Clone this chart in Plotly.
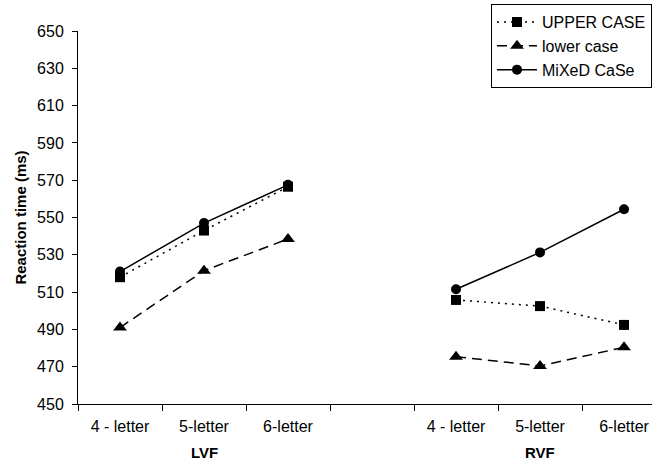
import plotly.graph_objects as go

categories = ["4 - letter", "5-letter", "6-letter", "", "4 - letter", "5-letter", "6-letter"]
groups = ["LVF", "RVF"]
upper_case = [518, 543, 566.5, None, 505.8, 502.5, 492.4]
lower_case = [491, 521.5, 538.5, None, 475.4, 470.4, 480.4]
mixed_case = [521, 547, 567.5, None, 511.5, 531.3, 554.4]
y_ticks = list(range(450, 651, 20))

xpos = list(range(len(categories)))
font = "Arial, Liberation Sans, sans-serif"

fig = go.Figure()
series = [
    ("UPPER CASE", upper_case, "2px,5px", "square", 10),
    ("lower case", lower_case, "10px,6px", "triangle-up", 12),
    ("MiXeD CaSe", mixed_case, "solid", "circle", 10),
]
for name, vals, dash, sym, size in series:
    fig.add_trace(go.Scatter(
        x=xpos, y=vals, name=name, mode="lines+markers",
        connectgaps=False,
        line=dict(color="black", width=1.5, dash=dash),
        marker=dict(symbol=sym, size=size, color="black"),
    ))

label_idx = [i for i, c in enumerate(categories) if c]
fig.update_xaxes(
    range=[-0.5, 6.333],
    tickvals=label_idx,
    ticktext=[categories[i] for i in label_idx],
    ticks="", showgrid=False, zeroline=False,
    showline=True, linecolor="black", linewidth=1,
    tickfont=dict(family=font, size=16, color="black"),
    ticklabelstandoff=8,
    minor=dict(tickvals=[i - 0.5 for i in range(len(categories) + 1)],
               ticks="outside", ticklen=6, tickcolor="black", showgrid=False),
)
fig.update_yaxes(
    range=[450, 650], tickvals=y_ticks,
    ticks="outside", ticklen=5, tickcolor="black",
    showgrid=False, zeroline=False,
    showline=True, linecolor="black", linewidth=1,
    tickfont=dict(family=font, size=16, color="black"),
    ticklabelstandoff=5,
    title=dict(text="<b>Reaction time (ms)</b>", font=dict(family=font, size=15, color="black"), standoff=6),
)

for gi, g in enumerate(groups):
    fig.add_annotation(
        x=1 + 4 * gi, y=-0.131, xref="x", yref="paper",
        text=f"<b>{g}</b>", showarrow=False, yanchor="middle",
        font=dict(family=font, size=15, color="black"),
    )

fig.update_layout(
    width=652, height=462,
    margin=dict(l=78, r=0, t=31, b=58),
    paper_bgcolor="white", plot_bgcolor="white",
    font=dict(family=font, size=16, color="black"),
    legend=dict(
        x=0.72, y=1.072, xanchor="left", yanchor="top",
        bordercolor="black", borderwidth=1, bgcolor="white",
        font=dict(family=font, size=16, color="black"),
        tracegroupgap=0, itemwidth=40,
    ),
    showlegend=True,
)

fig.write_html("out.html", config={"displayModeBar": False},
               post_script="document.body.style.margin='0';document.body.style.overflow='hidden';")
